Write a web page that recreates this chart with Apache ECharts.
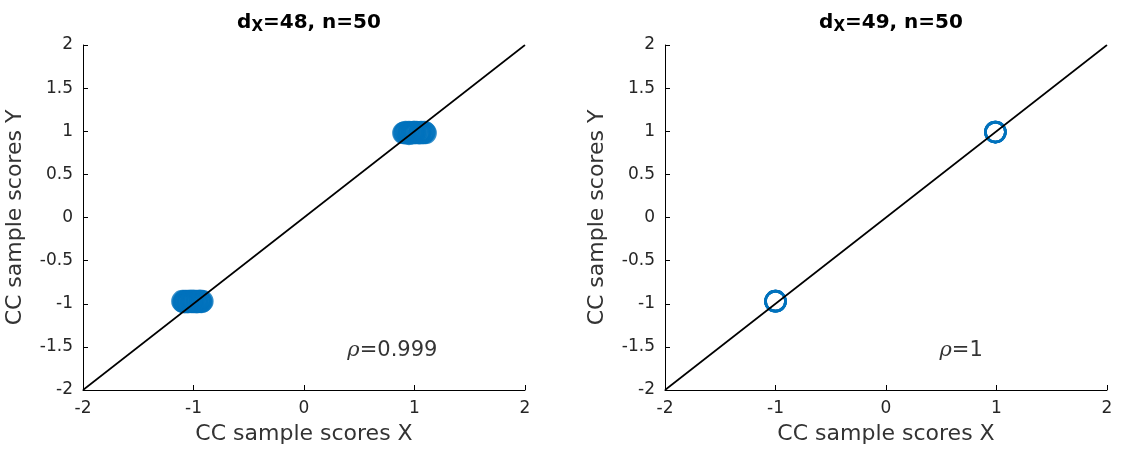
<!DOCTYPE html>
<html><head><meta charset="utf-8">
<script src="https://cdn.jsdelivr.net/npm/echarts@6/dist/echarts.min.js"></script>
<style>html,body{margin:0;padding:0;background:#fff}#c{width:1129px;height:450px}</style>
</head><body><div id="c"></div>
<script>
// Left panel (d_X=48): two tight clusters of sample scores
const leftX = [0.90,0.91,0.92,0.93,0.94,0.95,0.96,0.97,0.98,0.99,1.00,1.01,1.02,1.03,1.04,1.05,1.06,1.07,1.08,1.09,1.10,0.95,1.00,1.05,0.98,
               -1.10,-1.09,-1.08,-1.07,-1.06,-1.05,-1.04,-1.03,-1.02,-1.01,-1.00,-0.99,-0.98,-0.97,-0.96,-0.95,-0.94,-0.93,-0.92,-1.05,-1.00,-0.97,-1.02,-0.94,-1.08];
const leftY = [0.98,0.98,0.99,0.98,0.98,0.99,0.98,0.98,0.98,0.99,0.98,0.98,0.99,0.98,0.98,0.98,0.99,0.98,0.98,0.99,0.98,0.97,0.99,0.98,0.98,
               -0.97,-0.98,-0.97,-0.98,-0.97,-0.98,-0.97,-0.97,-0.98,-0.97,-0.98,-0.97,-0.98,-0.97,-0.98,-0.97,-0.97,-0.98,-0.97,-0.98,-0.97,-0.98,-0.97,-0.97,-0.98];
// Right panel (d_X=49): all points coincide at two locations
const rightX = [0.99,0.99,0.99,0.99,0.99,-1.00,-1.00,-1.00,-1.00,-1.00];
const rightY = [0.99,0.99,0.99,0.99,0.99,-0.97,-0.97,-0.97,-0.97,-0.97];
const titles = ['48', '49'];
const rhoTexts = ['0.999', '1'];
const rhoPos = [[0.80, -1.54], [0.68, -1.54]];
const diagLine = [[-2, -2], [2, 2]];

const FONT = 'DejaVu Sans';
const TXT = '#262626';
const BLUE = '#0072BD';

function zip(a, b) { return a.map((v, i) => [v, b[i]]); }

const grids = [
  {left: 83, top: 45, width: 442, height: 347},
  {left: 665, top: 45, width: 442, height: 347}
];

function xAxis(i) {
  return {
    gridIndex: i, type: 'value', min: -2, max: 2, interval: 1,
    name: 'CC sample scores X', nameLocation: 'middle', nameGap: 33,
    nameTextStyle: {fontFamily: FONT, fontSize: 22, color: '#333'},
    axisLine: {onZero: false, lineStyle: {color: '#000', width: 1}},
    axisTick: {inside: true, length: 5, lineStyle: {color: '#000'}},
    axisLabel: {fontFamily: FONT, fontSize: 17, color: TXT, margin: 10},
    splitLine: {show: false}
  };
}
function yAxis(i) {
  return {
    gridIndex: i, type: 'value', min: -2, max: 2, interval: 0.5,
    name: 'CC sample scores Y', nameLocation: 'middle', nameGap: 57,
    nameTextStyle: {fontFamily: FONT, fontSize: 22, color: '#333'},
    axisLine: {onZero: false, lineStyle: {color: '#000', width: 1}},
    axisTick: {inside: true, length: 5, lineStyle: {color: '#000'}},
    axisLabel: {fontFamily: FONT, fontSize: 17, color: TXT, margin: 10,
      formatter: v => String(v)},
    splitLine: {show: false}
  };
}

function scatter(i, data) {
  return {
    type: 'scatter', xAxisIndex: i, yAxisIndex: i, data: data,
    symbol: 'circle', symbolSize: 20,
    itemStyle: {color: 'rgba(0,0,0,0)', borderColor: BLUE, borderWidth: 2.6},
    z: 3, silent: true
  };
}
function line(i) {
  return {
    type: 'line', xAxisIndex: i, yAxisIndex: i, data: diagLine,
    showSymbol: false, symbol: 'none',
    lineStyle: {color: '#000', width: 1.6}, z: 4, silent: true
  };
}
function rho(i) {
  return {
    type: 'scatter', xAxisIndex: i, yAxisIndex: i, data: [rhoPos[i]],
    symbolSize: 0, silent: true, z: 5,
    label: {show: true, position: 'inside', color: '#000',
      formatter: '{r|ρ}{t|=' + rhoTexts[i] + '}',
      rich: {
        r: {fontFamily: 'DejaVu Serif', fontStyle: 'italic', fontSize: 21, color: '#000'},
        t: {fontFamily: FONT, fontSize: 21, color: '#000'}
      }}
  };
}

const chart = echarts.init(document.getElementById('c'), null, {renderer: 'canvas'});
chart.setOption({
  backgroundColor: '#fff',
  animation: false,
  title: [0, 1].map(i => ({
    text: '{d|d}{s|X}{d|=' + titles[i] + ', n=50}',
    left: grids[i].left + grids[i].width / 2, top: 8, textAlign: 'center',
    textStyle: {
      rich: {
        d: {fontFamily: FONT, fontWeight: 'bold', fontSize: 20, color: '#000', lineHeight: 22, verticalAlign: 'top'},
        s: {fontFamily: FONT, fontWeight: 'bold', fontSize: 15, color: '#000', lineHeight: 15, padding: [16, 0, 0, 0], verticalAlign: 'bottom'}
      }
    }
  })),
  grid: grids,
  xAxis: [xAxis(0), xAxis(1)],
  yAxis: [yAxis(0), yAxis(1)],
  series: [
    scatter(0, zip(leftX, leftY)), line(0), rho(0),
    scatter(1, zip(rightX, rightY)), line(1), rho(1)
  ]
});
</script>
</body></html>
